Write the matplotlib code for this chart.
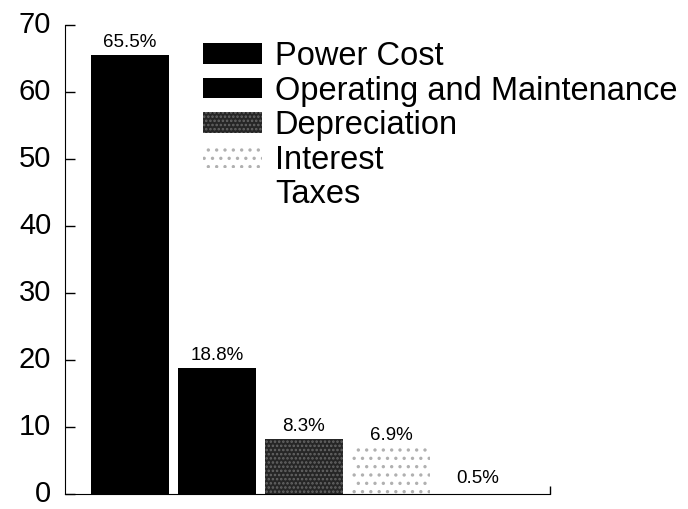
import matplotlib.pyplot as plt
import matplotlib.transforms as mtransforms
from matplotlib.patches import Patch

plt.rcParams['font.family'] = ['Liberation Sans', 'DejaVu Sans']
plt.rcParams['hatch.linewidth'] = 1.2

categories = ['Power Cost', 'Operating and Maintenance', 'Depreciation', 'Interest', 'Taxes']
shares = [65.5, 18.8, 8.3, 6.9, 0.5]
share_labels = ['65.5%', '18.8%', '8.3%', '6.9%', '0.5%']
yticks = [0, 10, 20, 30, 40, 50, 60, 70]

faces = ['black', 'black', '#262626', 'white', 'white']
hatches = [None, None, '....', '..', None]
hatch_cols = ['black', 'black', '#666666', '#b0b0b0', 'white']

fig = plt.figure(figsize=(6.88, 5.09), dpi=100)
ax = fig.add_axes([0.0945, 0.029, 0.705, 0.922])

xs = list(range(len(shares)))
for x, v, fc, h, hc in zip(xs, shares, faces, hatches, hatch_cols):
    ax.bar(x, v, width=0.9, color=fc, hatch=h, edgecolor=hc, linewidth=0)

for x, v, lab in zip(xs, shares, share_labels):
    ax.text(x, v + 0.6, lab, ha='center', va='bottom', fontsize=13.5)

ax.set_xlim(-0.747, 4.83)
ax.set_ylim(0, 70)
ax.set_yticks(yticks)
ax.tick_params(axis='y', direction='in', length=7, width=1, labelsize=21, pad=10)
# nudge tick numbers up a little so the "0" stays inside the image
shift = mtransforms.ScaledTranslation(0, 3 / 100, fig.dpi_scale_trans)
for lab in ax.get_yticklabels():
    lab.set_transform(lab.get_transform() + shift)
ax.set_xticks([4.83])
ax.set_xticklabels([''])
ax.tick_params(axis='x', direction='in', length=6, width=1)
ax.spines['top'].set_visible(False)
ax.spines['right'].set_visible(False)

handles = [Patch(facecolor=fc, hatch=h, edgecolor=hc, linewidth=0)
           for fc, h, hc in zip(faces, hatches, hatch_cols)]
ax.legend(handles, categories, loc='upper left', bbox_to_anchor=(203 / 688, 1 - 41 / 509),
          bbox_transform=fig.transFigure, frameon=False, fontsize=23.5,
          handlelength=1.8, handleheight=0.6, handletextpad=0.4,
          labelspacing=0.11, borderpad=0, borderaxespad=0)

fig.savefig('out.png', dpi=100)
